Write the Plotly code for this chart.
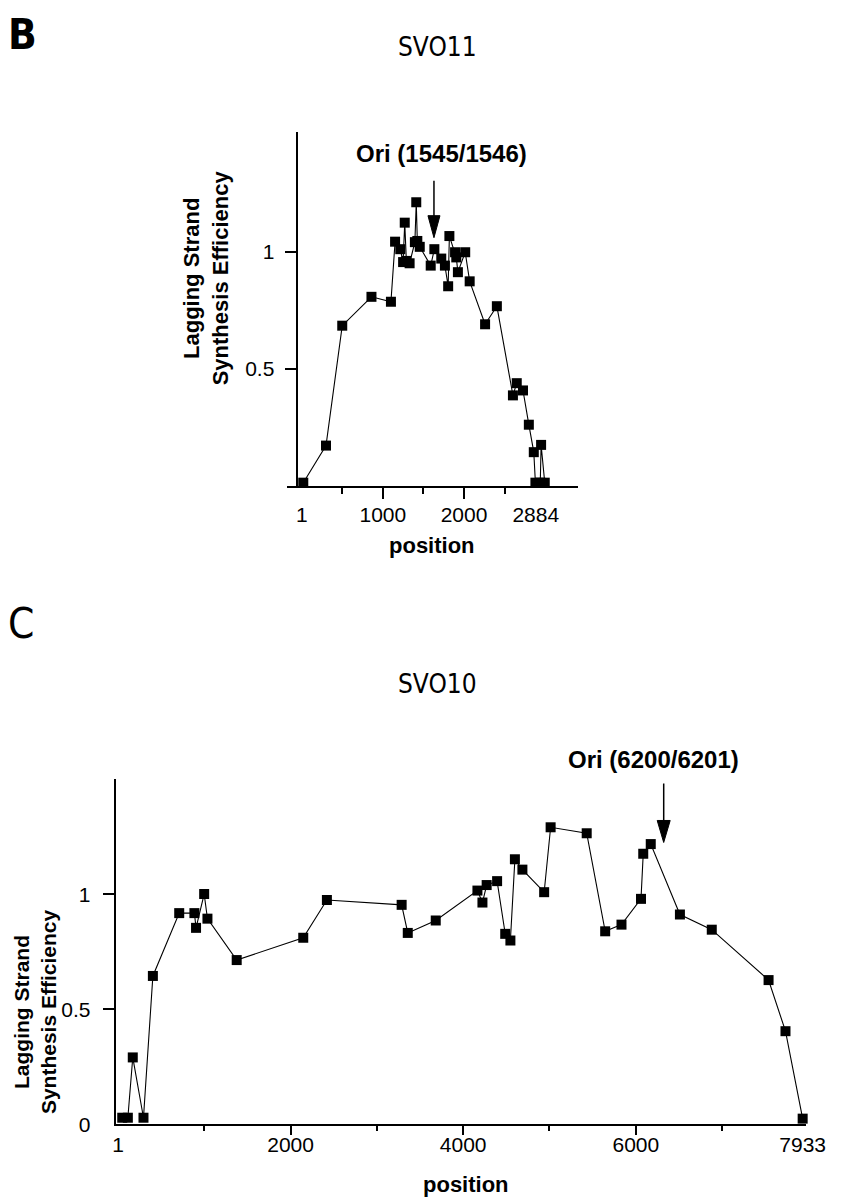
import plotly.graph_objects as go

W, H = 846, 1203

# ---------------- data ----------------
# Panel B : SVO11
b_pos = [20, 300, 500, 860, 1100, 1151, 1215, 1250, 1270, 1290, 1330, 1395, 1412,
         1425, 1455, 1590, 1635, 1720, 1765, 1805, 1820, 1890, 1905, 1925, 2015,
         2070, 2260, 2405, 2603, 2650, 2727, 2799, 2860, 2880, 2940, 2950, 2995]
b_eff = [0.015, 0.173, 0.684, 0.807, 0.786, 1.042, 1.010, 0.955, 1.123, 0.960,
         0.950, 1.040, 1.210, 1.045, 1.020, 0.940, 1.010, 0.970, 0.940, 0.852,
         1.066, 0.997, 0.975, 0.912, 0.997, 0.873, 0.690, 0.767, 0.387, 0.439,
         0.408, 0.262, 0.145, 0.015, 0.015, 0.176, 0.015]
b_xticks = [1, 1000, 2000, 2884]
b_xtext = ["1", "1000", "2000", "2884"]
b_yticks = [0.5, 1]
b_ytext = ["0.5", "1"]
b_ori = 1630

# Panel C : SVO10
c_pos = [50, 115, 172, 296, 405, 710, 886, 905, 999, 1037, 1376, 2147, 2421,
         3287, 3358, 3682, 4165, 4223, 4272, 4393, 4487, 4547, 4599, 4686, 4938,
         5013, 5431, 5645, 5834, 6060, 6086, 6173, 6511, 6880, 7538, 7734, 7933]
c_eff = [0.029, 0.029, 0.291, 0.029, 0.645, 0.918, 0.918, 0.854, 1.001, 0.894,
         0.714, 0.811, 0.975, 0.954, 0.832, 0.886, 1.016, 0.964, 1.040, 1.057,
         0.828, 0.799, 1.152, 1.107, 1.009, 1.291, 1.265, 0.839, 0.868, 0.980,
         1.176, 1.218, 0.912, 0.846, 0.627, 0.405, 0.025]
c_xticks = [1, 2000, 4000, 6000, 7933]
c_xtext = ["1", "2000", "4000", "6000", "7933"]
c_yticks = [0, 0.5, 1]
c_ytext = ["0", "0.5", "1"]
c_ori = 6323

# ---------------- styling ----------------
REG = "Liberation Sans, Arial, Helvetica, sans-serif"
NARROW = "DejaVu Sans Condensed, Liberation Sans, sans-serif"
BLACK = "black"
CLEAR = "rgba(0,0,0,0)"
TICK_SIZE = 21


def px_x(p):
    return p / W


def px_y(p):
    return 1 - p / H


fig = go.Figure()

line_style = dict(color=BLACK, width=1.1)
marker_style = dict(symbol="square", size=10, color=BLACK, line=dict(width=0))

fig.add_trace(go.Scatter(x=b_pos, y=b_eff, mode="lines+markers", line=line_style,
                         marker=marker_style, xaxis="x", yaxis="y", cliponaxis=False,
                         showlegend=False, hoverinfo="skip"))
fig.add_trace(go.Scatter(x=c_pos, y=c_eff, mode="lines+markers", line=line_style,
                         marker=marker_style, xaxis="x2", yaxis="y2", cliponaxis=False,
                         showlegend=False, hoverinfo="skip"))
# empty traces that activate the overlay tick axes
fig.add_trace(go.Scatter(x=[], y=[], xaxis="x3", yaxis="y", showlegend=False, hoverinfo="skip"))
fig.add_trace(go.Scatter(x=[], y=[], xaxis="x4", yaxis="y2", showlegend=False, hoverinfo="skip"))

b_xrange = [-185, 3403]
c_xrange = [-28, 7977]

common = dict(showgrid=False, zeroline=False, fixedrange=True)
tfont = dict(size=TICK_SIZE, family=REG, color=BLACK)

fig.update_layout(
    width=W, height=H, margin=dict(l=0, r=0, t=0, b=0),
    paper_bgcolor="white", plot_bgcolor="white", showlegend=False,
    font=dict(family=REG, color=BLACK),
    # ----- panel B -----
    xaxis=dict(domain=[px_x(283), px_x(582)], range=b_xrange, anchor="y",
               tickmode="array", tickvals=b_xticks, ticktext=b_xtext, ticks="",
               ticklabelstandoff=9, tickfont=tfont,
               showline=True, linecolor=BLACK, linewidth=2,
               minor=dict(tickmode="array", tickvals=[500, 1500, 2500], ticks="outside",
                          ticklen=6, tickwidth=1.5, tickcolor=BLACK),
               **common),
    xaxis3=dict(overlaying="x", range=b_xrange, anchor="y", side="bottom",
                tickmode="array", tickvals=[1000, 2000], ticks="outside", ticklen=12,
                tickwidth=1.5, tickcolor=BLACK, showticklabels=False, showline=False,
                **common),
    yaxis=dict(domain=[px_y(482.6), px_y(125)], range=[0, 1.51], anchor="free",
               position=px_x(294), tickmode="array", tickvals=b_yticks, ticktext=b_ytext,
               ticks="outside", ticklen=12, tickwidth=1.5, tickcolor=BLACK,
               ticklabelstandoff=6, tickfont=tfont,
               showline=True, linecolor=BLACK, linewidth=1.5, **common),
    # ----- panel C -----
    xaxis2=dict(domain=[px_x(107.3), px_x(816.7)], range=c_xrange, anchor="y2",
                tickmode="array", tickvals=c_xticks, ticktext=c_xtext, ticks="",
                tickfont=tfont,
                showline=True, linecolor=BLACK, linewidth=2,
                minor=dict(tickmode="array", tickvals=[1000, 3000, 5000, 7000],
                           ticks="outside", ticklen=5, tickwidth=1.5, tickcolor=BLACK),
                **common),
    xaxis4=dict(overlaying="x2", range=c_xrange, anchor="y2", side="bottom",
                tickmode="array", tickvals=[2000, 4000, 6000], ticks="outside", ticklen=10,
                tickwidth=1.5, tickcolor=BLACK, showticklabels=False, showline=False,
                **common),
    # major ticks are transparent (they only push the labels out); visible ticks are minor
    yaxis2=dict(domain=[px_y(1126.7), px_y(778.3)], range=[0, 1.5], anchor="x2",
                tickmode="array", tickvals=c_yticks, ticktext=c_ytext,
                ticks="outside", ticklen=11, tickcolor=CLEAR, ticklabelstandoff=8,
                tickfont=tfont,
                showline=True, linecolor=BLACK, linewidth=1.5,
                minor=dict(tickmode="array", tickvals=[0.5, 1], ticks="outside",
                           ticklen=11, tickwidth=1.5, tickcolor=BLACK),
                **common),
)


def label(text, cx, cy, size, family=REG, bold=False, angle=0):
    return dict(text=text, x=px_x(cx), y=px_y(cy), xref="paper", yref="paper",
                xanchor="center", yanchor="middle", showarrow=False, align="center",
                textangle=angle,
                font=dict(family=family, size=size, color=BLACK,
                          weight="bold" if bold else "normal"))


def corner(text, top, bold):
    return dict(text=text, x=px_x(-5), y=px_y(top), xref="paper", yref="paper",
                xanchor="left", yanchor="top", showarrow=False,
                font=dict(family=NARROW, size=42, color=BLACK,
                          weight="bold" if bold else "normal"))


ann = [
    corner("B", 0, True),
    label("SVO11", 438, 39, 26, NARROW),
    corner("C", 594, False),
    label("SVO10", 438, 682, 26, NARROW),
    label("Lagging Strand<br>Synthesis Efficiency", 200, 272, 22, bold=True, angle=-90),
    label("Lagging Strand<br>Synthesis Efficiency", 24, 1013, 21, bold=True, angle=-90),
    label("position", 432, 542, 22, bold=True),
    label("position", 467, 1187, 22, bold=True),
    label("Ori (1545/1546)", 441.7, 147, 24, bold=True),
    label("Ori (6200/6201)", 660, 758, 24, bold=True),
]
fig.update_layout(annotations=ann)

# origin arrows (shaft + elongated head, sized in pixels)
shapes = []
for xr, yr, xa, ya, shaft, head_len, head_w in [
        ("x", "y", b_ori, 1.059, 57, 22, 12),
        ("x2", "y2", c_ori, 1.225, 59, 22, 13)]:
    shapes.append(dict(type="line", xref=xr, yref=yr, xsizemode="pixel", ysizemode="pixel",
                       xanchor=xa, yanchor=ya, x0=0, x1=0, y0=head_len - 2, y1=shaft,
                       line=dict(color=BLACK, width=1.5)))
    shapes.append(dict(type="path", xref=xr, yref=yr, xsizemode="pixel", ysizemode="pixel",
                       xanchor=xa, yanchor=ya,
                       path=f"M{-head_w/2},{head_len} L{head_w/2},{head_len} L0,0 Z",
                       fillcolor=BLACK, line=dict(color=BLACK, width=1)))
fig.update_layout(shapes=shapes)

fig.write_html("out.html")
